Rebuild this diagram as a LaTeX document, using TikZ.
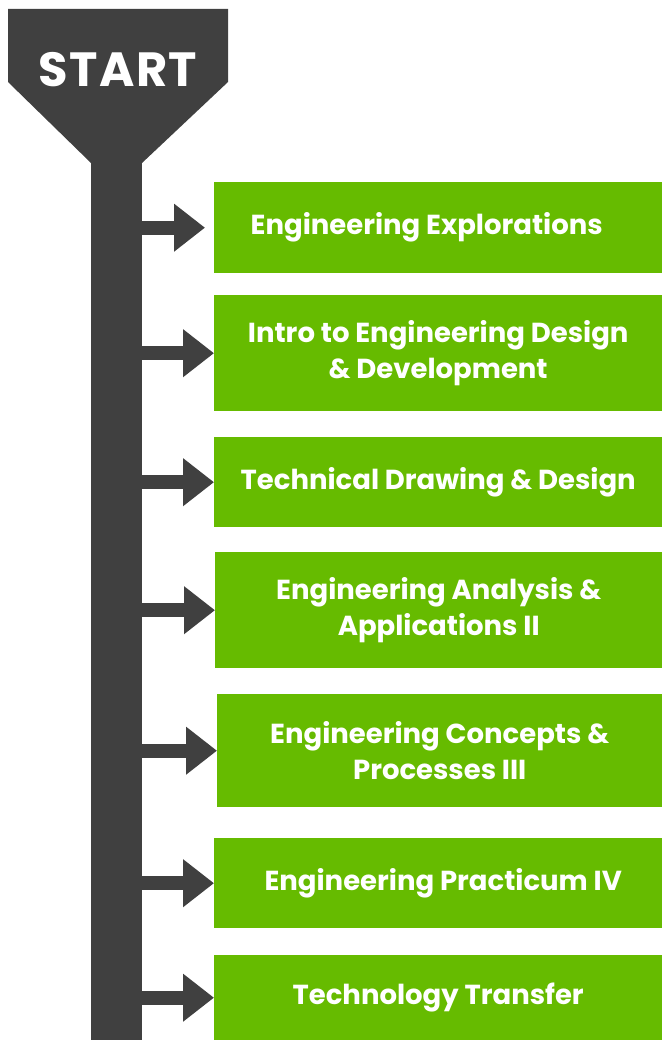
\documentclass[tikz,border=0pt]{standalone}
\usepackage{fontspec}
\setmainfont{Poppins}
\usetikzlibrary{arrows.meta}
\definecolor{stemgray}{HTML}{404040}
\definecolor{boxgreen}{HTML}{66BB00}
\tikzset{
  box/.style={fill=boxgreen, text=white, anchor=north west, minimum width=448pt,
    inner sep=0pt, align=center, font=\bfseries\fontsize{27.5}{36.5}\selectfont},
  arr/.style={draw=stemgray, line width=14pt,
    -{Triangle[length=31pt,width=46pt]}},
}
\begin{document}
\begin{tikzpicture}[x=1pt,y=-1pt]
\useasboundingbox (0,0) rectangle (662,1040);
% funnel head and stem
\fill[stemgray] (8,9) -- (228,9) -- (228,82) -- (142,163) -- (91,163) -- (8,82) -- cycle;
\node[fill=stemgray, anchor=north west, minimum width=51pt, minimum height=878pt, inner sep=0pt] (stem) at (91,162) {};
\node[text=white, font=\bfseries\fontsize{48}{50}\selectfont\addfontfeature{LetterSpace=3}] (start) at (118,70) {START};
% boxes
\node[box, minimum height=91pt] (b1) at (214,182) {Engineering Explorations\hspace*{23pt}};
\node[box, minimum height=116pt] (b2) at (214,295) {Intro to Engineering Design\\\& Development};
\node[box, minimum height=90pt] (b3) at (214,437) {Technical Drawing \& Design};
\node[box, minimum height=116pt, minimum width=447pt] (b4) at (215,552) {Engineering Analysis \&\\Applications II};
\node[box, minimum height=113pt, minimum width=445pt] (b5) at (217,694) {Engineering Concepts \&\\Processes III};
\node[box, minimum height=90pt] (b6) at (214,838) {\hspace*{10pt}Engineering Practicum IV};
\node[box, minimum height=85pt] (b7) at (214,955) {Technology Transfer};
% arrows
\draw[arr, shorten >=9pt] (stem.east |- b1.west) -- (b1.west);
\foreach \b in {b2,b3,b4,b5,b6,b7}
  \draw[arr] (stem.east |- \b.west) -- (\b.west);
\end{tikzpicture}
\end{document}
